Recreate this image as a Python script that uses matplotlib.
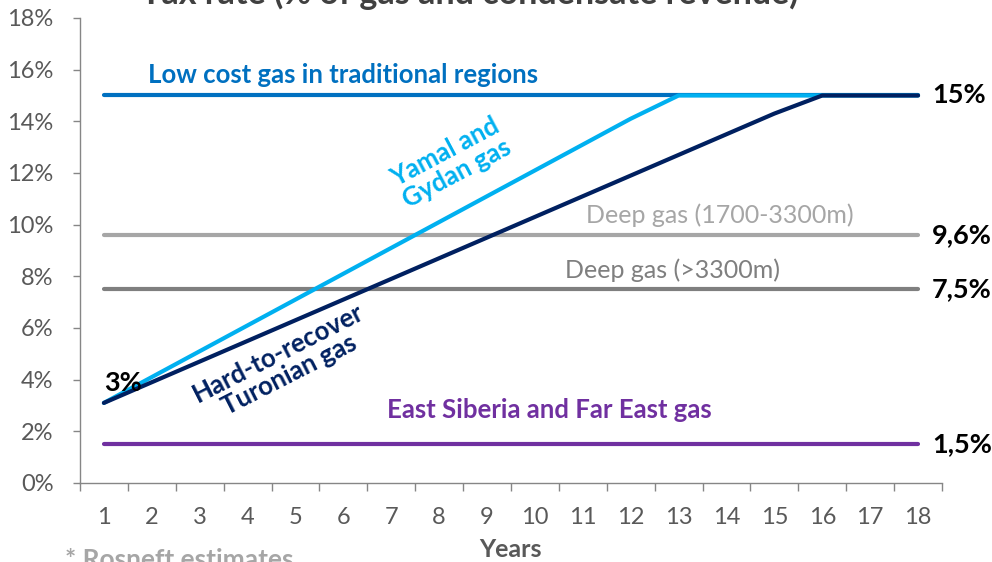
import matplotlib
matplotlib.use("Agg")
import matplotlib.pyplot as plt

plt.rcParams['font.family'] = ['Lato', 'DejaVu Sans']

years = list(range(1, 19))
low_cost = [15.0] * 18
yamal = [3.1, 4.1, 5.1, 6.1, 7.1, 8.1, 9.1, 10.1, 11.1, 12.1, 13.1, 14.1,
         15.0, 15.0, 15.0, 15.0, 15.0, 15.0]
hard = [3.1, 3.9, 4.7, 5.5, 6.3, 7.1, 7.9, 8.7, 9.5, 10.3, 11.1, 11.9,
        12.7, 13.5, 14.3, 15.0, 15.0, 15.0]
deep_1700 = [9.6] * 18
deep_3300 = [7.5] * 18
east_siberia = [1.5] * 18

end_labels = [(15.0, "15%"), (9.6, "9,6%"), (7.5, "7,5%"), (1.5, "1,5%")]
y_ticks = list(range(0, 19, 2))

fig = plt.figure(figsize=(9.92, 5.62), dpi=100)
ax = fig.add_axes([0.0806, 0.1406, 0.869, 0.8274])

lw = 3.0
kw = dict(lw=lw, solid_capstyle='round')
ax.plot(years, low_cost, color='#0070C0', **kw)
ax.plot(years, deep_1700, color='#A6A6A6', **kw)
ax.plot(years, deep_3300, color='#7F7F7F', **kw)
ax.plot(years, east_siberia, color='#7030A0', **kw)
ax.plot(years, yamal, color='#00B0F0', **kw)
ax.plot(years, hard, color='#002060', **kw)

ax.set_xlim(0.5, 18.5)
ax.set_ylim(0, 18)

ax.set_yticks(y_ticks)
ax.set_yticklabels([f"{v}%" for v in y_ticks])
ax.set_xticks(years)
ax.set_xticklabels([str(y) for y in years])
ax.set_xticks([y + 0.5 for y in [0] + years], minor=True)
ax.tick_params(axis='x', which='major', length=0, pad=17,
               labelsize=17, labelcolor='#595959')
ax.tick_params(axis='x', which='minor', length=6, color='#868686', width=1)
ax.tick_params(axis='y', length=5, color='#868686', width=1, pad=14,
               labelsize=17, labelcolor='#595959')

for s in ['top', 'right']:
    ax.spines[s].set_visible(False)
for s in ['left', 'bottom']:
    ax.spines[s].set_color('#868686')
    ax.spines[s].set_linewidth(1)

ax.text(1.92, 15.8, "Low cost gas in traditional regions", color='#0070C0',
        fontsize=18.5, fontweight='bold', ha='left', va='center')
ax.text(8.25, 12.4, "Yamal and\nGydan gas", color='#00B0F0', fontsize=18.5,
        fontweight='bold', ha='center', va='center', rotation=28,
        multialignment='center', linespacing=1.0)
ax.text(11.06, 10.38, "Deep gas (1700-3300m)", color='#A6A6A6', fontsize=18,
        ha='left', va='center')
ax.text(10.62, 8.25, "Deep gas (>3300m)", color='#7F7F7F', fontsize=18,
        ha='left', va='center')
ax.text(4.75, 4.6, "Hard-to-recover\nTuronian gas", color='#002060',
        fontsize=18.5, fontweight='bold', ha='center', va='center',
        rotation=27, multialignment='center', linespacing=1.0)
ax.text(6.91, 2.83, "East Siberia and Far East gas", color='#7030A0',
        fontsize=18.5, fontweight='bold', ha='left', va='center')
ax.text(1.4, 3.87, "3%", color='black', fontsize=19.5, fontweight='bold',
        ha='center', va='center')

for val, txt in end_labels:
    ax.text(18.29, val, txt, color='black', fontsize=19.5, fontweight='bold',
            ha='left', va='center', clip_on=False)

fig.text(0.474, 0.9929, "Tax rate (% of gas and condensate revenue)",
         color='#404040', fontsize=24.5, fontweight='bold', ha='center',
         va='baseline')
fig.text(0.515, 0.022, "Years", color='#595959', fontsize=18,
         fontweight='bold', ha='center', va='center')
fig.text(0.066, -0.0107, "* Rosneft estimates", color='#A6A6A6', fontsize=19,
         fontweight='bold', ha='left', va='baseline')

fig.savefig("out.png", dpi=100)
